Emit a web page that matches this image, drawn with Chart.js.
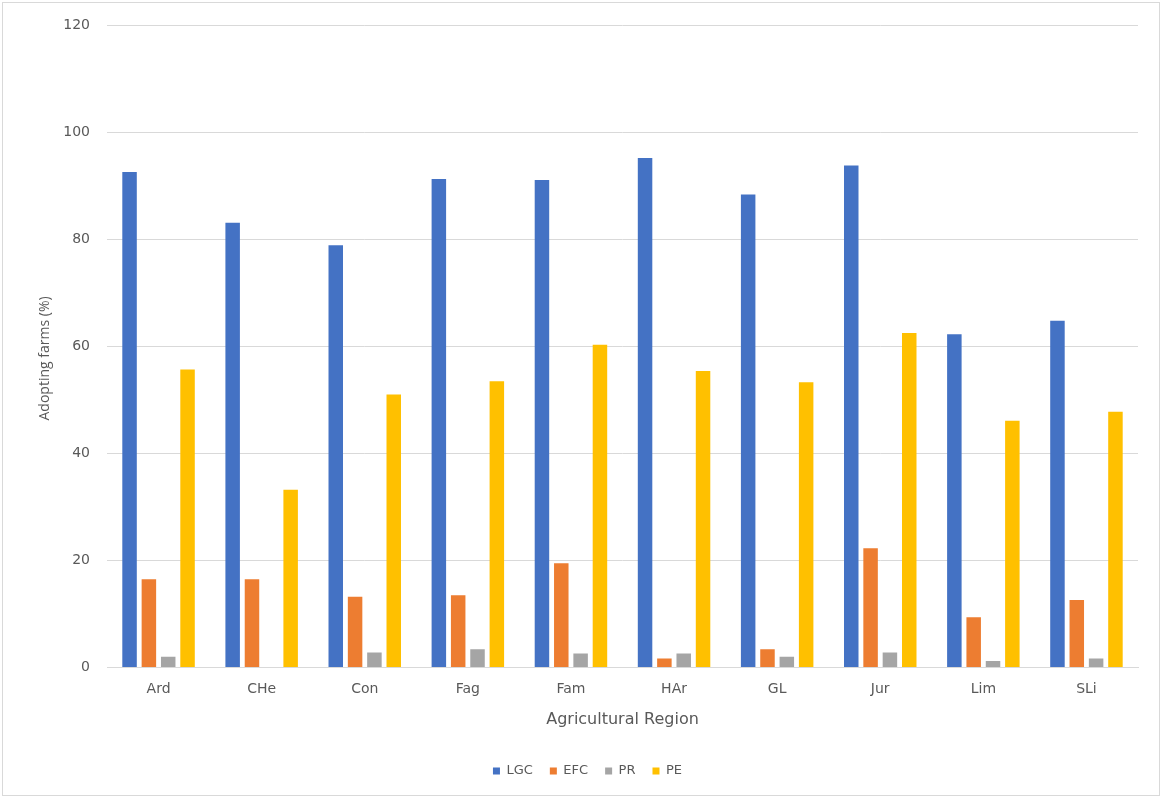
<!DOCTYPE html>
<html>
<head>
<meta charset="utf-8">
<script src="https://cdn.jsdelivr.net/npm/chart.js@4/dist/chart.umd.min.js"></script>
<style>
  html, body { margin: 0; padding: 0; background: #ffffff; }
  #wrap { width: 1162px; height: 798px; position: relative; }
</style>
</head>
<body>
<div id="wrap"><canvas id="chart" width="1162" height="798"></canvas></div>
<script>
// Agricultural regions and share of adopting farms (%) per practice
const regions = ['Ard', 'CHe', 'Con', 'Fag', 'Fam', 'HAr', 'GL', 'Jur', 'Lim', 'SLi'];
const lgc = [92.6, 83.1, 78.9, 91.3, 91.1, 95.2, 88.4, 93.8, 62.3, 64.8];
const efc = [16.5, 16.5, 13.2, 13.5, 19.5, 1.7, 3.4, 22.3, 9.4, 12.6];
const pr  = [2.0, 0, 2.8, 3.4, 2.6, 2.6, 2.0, 2.8, 1.2, 1.7];
const pe  = [55.7, 33.2, 51.0, 53.5, 60.3, 55.4, 53.3, 62.5, 46.1, 47.8];
const yTicks = [0, 20, 40, 60, 80, 100, 120];
const yTitle = 'Adopting farms (%)';
const xTitle = 'Agricultural Region';

const FONT = "'DejaVu Sans', 'Liberation Sans', sans-serif";
const FONT_Y = "'Open Sans', 'Liberation Sans', sans-serif";
const TEXT = '#595959';
const GRID = '#d9d9d9';

// White background, thin outer frame and the rotated value-axis title
const framePlugin = {
  id: 'frame',
  beforeDraw(chart) {
    const c = chart.ctx;
    c.save();
    c.fillStyle = '#ffffff';
    c.fillRect(0, 0, chart.width, chart.height);
    c.restore();
  },
  afterDraw(chart) {
    const c = chart.ctx;
    c.save();
    c.strokeStyle = '#d9d9d9';
    c.lineWidth = 1;
    c.strokeRect(2.5, 2.5, chart.width - 5, chart.height - 5);
    // value-axis title, set slightly below the plot's mid-height
    const area = chart.chartArea;
    const cy = (area.top + area.bottom) / 2 + 12;
    c.translate(45, cy);
    c.rotate(-Math.PI / 2);
    c.fillStyle = TEXT;
    c.font = "14px " + FONT_Y;
    c.textAlign = 'center';
    c.textBaseline = 'middle';
    c.fillText(yTitle, 0, 0);
    c.restore();
  }
};

const common = { categoryPercentage: 0.75, barPercentage: 0.75 };

new Chart(document.getElementById('chart'), {
  type: 'bar',
  data: {
    labels: regions,
    datasets: [
      { label: 'LGC', data: lgc, backgroundColor: '#4472C4', ...common },
      { label: 'EFC', data: efc, backgroundColor: '#ED7D31', ...common },
      { label: 'PR',  data: pr,  backgroundColor: '#A5A5A5', ...common },
      { label: 'PE',  data: pe,  backgroundColor: '#FFC000', ...common }
    ]
  },
  options: {
    responsive: false,
    animation: false,
    layout: { padding: { left: 37, right: 24, top: 16, bottom: 10.5 } },
    plugins: {
      legend: {
        position: 'bottom',
        labels: {
          boxWidth: 7, boxHeight: 7, padding: 17,
          color: TEXT, font: { family: FONT, size: 13 }
        }
      },
      tooltip: { enabled: false }
    },
    scales: {
      x: {
        grid: { display: false, drawTicks: false },
        border: { color: GRID },
        ticks: { color: TEXT, font: { family: FONT, size: 14 }, padding: 13 },
        title: {
          display: true, text: xTitle, color: TEXT,
          font: { family: FONT, size: 16 }, padding: { top: 8, bottom: 18 }
        },
        afterFit(scale) { scale.height = 80; }
      },
      y: {
        min: 0, max: 120,
        afterBuildTicks(scale) { scale.ticks = yTicks.map(v => ({ value: v })); },
        grid: { color: GRID, drawTicks: false },
        border: { display: false },
        ticks: { color: TEXT, font: { family: FONT, size: 14 }, padding: 17 },
        afterFit(scale) { scale.width = 107 - 37; }
      }
    }
  },
  plugins: [framePlugin]
});
</script>
</body>
</html>
